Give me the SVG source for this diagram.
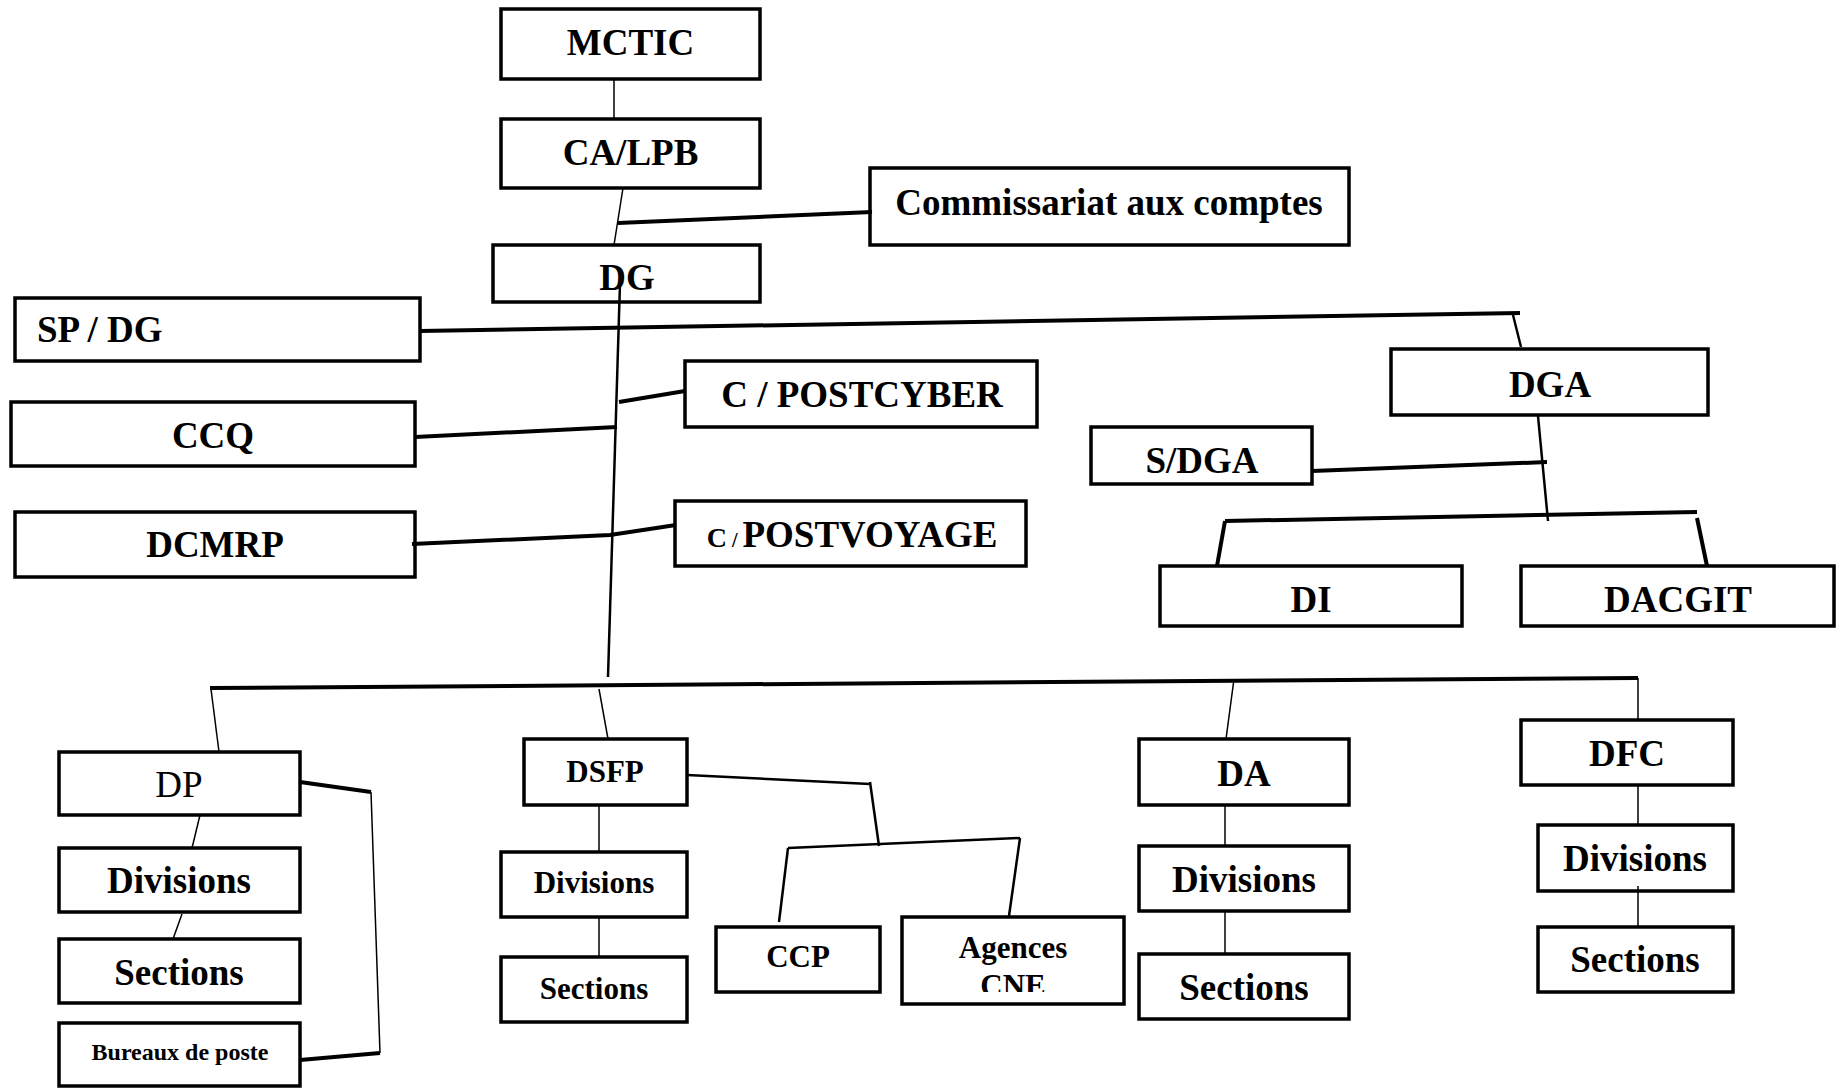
<svg xmlns="http://www.w3.org/2000/svg" width="1845" height="1088" viewBox="0 0 1845 1088">
<defs>
<style>
.box{fill:#fff;stroke:#000;stroke-width:3.5}
text{font-family:"Liberation Serif","Times New Roman",serif;font-weight:bold;font-size:37px;text-anchor:middle;fill:#000}
.reg{font-weight:normal}
.s31{font-size:31px}
.s24{font-size:24px}
.thin{stroke:#000;stroke-width:1.5;fill:none}
.mid{stroke:#000;stroke-width:2.5;fill:none}
.thick{stroke:#000;stroke-width:4;fill:none}
</style>
<clipPath id="clipCNE"><rect x="902" y="900" width="222" height="92"/></clipPath>
</defs>
<rect width="1845" height="1088" fill="#fff"/>
<g id="n-mctic"><rect class="box" x="501" y="9" width="259" height="70"/><text x="630.5" y="55">MCTIC</text></g>
<g id="n-calpb"><rect class="box" x="501" y="119" width="259" height="69"/><text x="630.5" y="165">CA/LPB</text></g>
<g id="n-comm"><rect class="box" x="870" y="168" width="479" height="77"/><text x="1109" y="215">Commissariat aux comptes</text></g>
<g id="n-dg"><rect class="box" x="493" y="245" width="267" height="57"/><text x="627" y="290">DG</text></g>
<g id="n-spdg"><rect class="box" x="15" y="298" width="405" height="63"/><text x="37" y="342" style="text-anchor:start">SP / DG</text></g>
<g id="n-postcyber"><rect class="box" x="685" y="361" width="352" height="66"/><text x="862" y="407">C / POSTCYBER</text></g>
<g id="n-ccq"><rect class="box" x="11" y="402" width="404" height="64"/><text x="213" y="448">CCQ</text></g>
<g id="n-dcmrp"><rect class="box" x="15" y="512" width="400" height="65"/><text x="215" y="557">DCMRP</text></g>
<g id="n-postvoyage"><rect class="box" x="675" y="501" width="351" height="65"/><text x="852" y="547"><tspan style="font-size:28px">C</tspan><tspan style="font-size:20px"> / </tspan>POSTVOYAGE</text></g>
<g id="n-dga"><rect class="box" x="1391" y="349" width="317" height="66"/><text x="1550" y="397">DGA</text></g>
<g id="n-sdga"><rect class="box" x="1091" y="427" width="221" height="57"/><text x="1202" y="473">S/DGA</text></g>
<g id="n-di"><rect class="box" x="1160" y="566" width="302" height="60"/><text x="1311" y="612">DI</text></g>
<g id="n-dacgit"><rect class="box" x="1521" y="566" width="313" height="60"/><text x="1678" y="612">DACGIT</text></g>
<g id="n-dp"><rect class="box" x="59" y="752" width="241" height="63"/><text class="reg" x="179" y="797">DP</text></g>
<g id="n-dp-div"><rect class="box" x="59" y="848" width="241" height="64"/><text x="179" y="893">Divisions</text></g>
<g id="n-dp-sec"><rect class="box" x="59" y="939" width="241" height="64"/><text x="179" y="985">Sections</text></g>
<g id="n-bureaux"><rect class="box" x="59" y="1023" width="241" height="63"/><text class="s24" x="180" y="1060">Bureaux de poste</text></g>
<g id="n-dsfp"><rect class="box" x="524" y="739" width="163" height="66"/><text class="s31" x="605" y="782">DSFP</text></g>
<g id="n-dsfp-div"><rect class="box" x="501" y="852" width="186" height="65"/><text class="s31" x="594" y="893">Divisions</text></g>
<g id="n-dsfp-sec"><rect class="box" x="501" y="957" width="186" height="65"/><text class="s31" x="594" y="999">Sections</text></g>
<g id="n-ccp"><rect class="box" x="716" y="927" width="164" height="65"/><text class="s31" x="798" y="967">CCP</text></g>
<g id="n-agences"><rect class="box" x="902" y="917" width="222" height="87"/><text class="s31" x="1013" y="958">Agences</text><text class="s31" x="1013" y="996" clip-path="url(#clipCNE)">CNE</text></g>
<g id="n-da"><rect class="box" x="1139" y="739" width="210" height="66"/><text x="1244" y="786">DA</text></g>
<g id="n-da-div"><rect class="box" x="1139" y="846" width="210" height="65"/><text x="1244" y="892">Divisions</text></g>
<g id="n-da-sec"><rect class="box" x="1139" y="954" width="210" height="65"/><text x="1244" y="1000">Sections</text></g>
<g id="n-dfc"><rect class="box" x="1521" y="720" width="212" height="65"/><text x="1627" y="766">DFC</text></g>
<g id="n-dfc-div"><rect class="box" x="1538" y="825" width="195" height="66"/><text x="1635" y="871">Divisions</text></g>
<g id="n-dfc-sec"><rect class="box" x="1538" y="927" width="195" height="65"/><text x="1635" y="972">Sections</text></g>
<g id="connectors">
<line class="thin" x1="614" y1="79" x2="614" y2="119"/>
<line class="thin" x1="623" y1="188" x2="614" y2="245"/>
<polyline class="thick" points="618,223 872,212"/>
<line class="mid" x1="620" y1="283" x2="608" y2="677"/>
<polyline class="thick" points="420,331 1520,313"/>
<line class="mid" x1="1513" y1="315" x2="1521" y2="347"/>
<polyline class="thick" points="619,402 685,391"/>
<polyline class="thick" points="415,437 617,427"/>
<polyline class="thick" points="412,544 610,535 676,525"/>
<polyline class="thick" points="210,688 1638,678"/>
<line class="thin" x1="211" y1="689" x2="219" y2="752"/>
<line class="thin" x1="599" y1="689" x2="608" y2="739"/>
<line class="thin" x1="1234" y1="679" x2="1226" y2="739"/>
<line class="thin" x1="1638" y1="678" x2="1638" y2="720"/>
<line class="thin" x1="200" y1="815" x2="192" y2="848"/>
<line class="thin" x1="182" y1="914" x2="173" y2="939"/>
<polyline class="thick" points="300,782 371,792"/>
<line class="thin" x1="371" y1="792" x2="380" y2="1053"/>
<polyline class="thick" points="380,1053 300,1060"/>
<line class="thin" x1="599" y1="805" x2="599" y2="852"/>
<line class="thin" x1="599" y1="917" x2="599" y2="957"/>
<polyline class="mid" points="687,775 870,784"/>
<line class="mid" x1="870" y1="782" x2="879" y2="846"/>
<polyline class="mid" points="788,848 1020,838"/>
<line class="mid" x1="788" y1="848" x2="779" y2="922"/>
<line class="mid" x1="1020" y1="838" x2="1009" y2="916"/>
<line class="thin" x1="1225" y1="805" x2="1225" y2="846"/>
<line class="thin" x1="1225" y1="911" x2="1225" y2="954"/>
<line class="thin" x1="1638" y1="785" x2="1638" y2="825"/>
<line class="thin" x1="1638" y1="886" x2="1638" y2="927"/>
<line class="mid" x1="1538" y1="416" x2="1548" y2="521"/>
<polyline class="thick" points="1312,471 1547,462"/>
<polyline class="thick" points="1225,521 1697,512"/>
<line class="thick" x1="1225" y1="521" x2="1217" y2="566"/>
<line class="thick" x1="1697" y1="518" x2="1707" y2="566"/>
</g>
</svg>
